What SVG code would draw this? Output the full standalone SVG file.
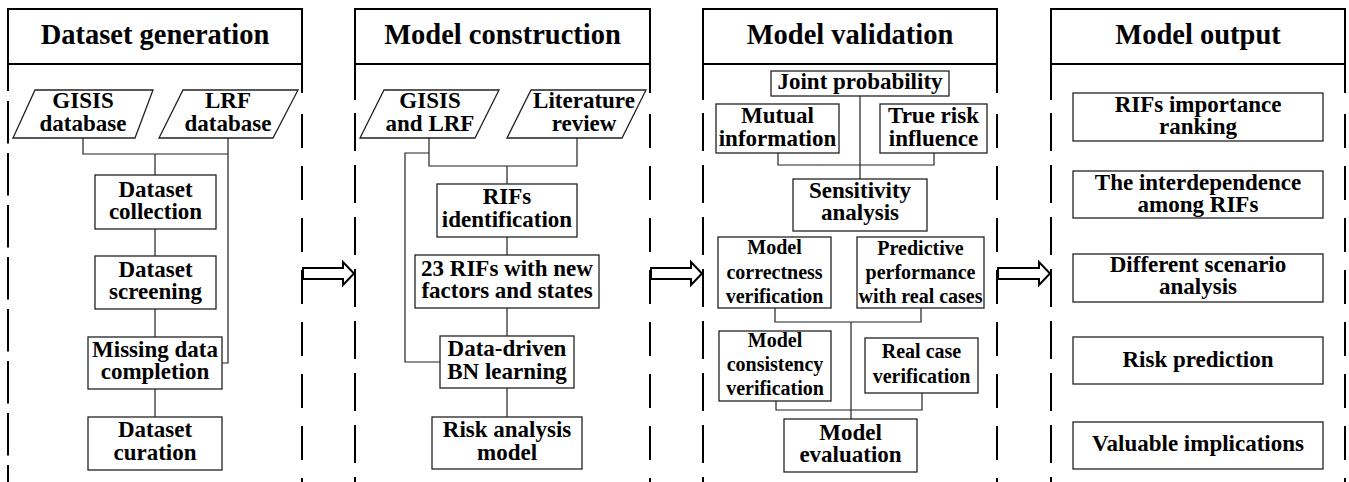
<svg xmlns="http://www.w3.org/2000/svg" width="1349" height="482" viewBox="0 0 1349 482" font-family="Liberation Serif, Times New Roman, serif">
  <style>
    .hdr { fill: #fff; stroke: #000; stroke-width: 2; }
    .side { fill: none; stroke: #000; stroke-width: 2; }
    .box { fill: #fff; stroke: #222; stroke-width: 1.3; }
    .wire { fill: none; stroke: #222; stroke-width: 1.2; }
    .flow { fill: #fff; stroke: #000; stroke-width: 2; stroke-linejoin: miter; }
    text { font-weight: bold; text-anchor: middle; fill: #000; }
    .h { font-size: 28.5px; }
    .n { font-size: 23px; }
    .s { font-size: 20px; }
  </style>

  <!-- Stage frames: solid header box, dashed side rails -->
  <g id="stage-frames">
    <g id="frame-dataset">
      <rect class="hdr" x="8" y="9" width="294" height="55"/>
      <text class="h" x="155" y="44">Dataset generation</text>
      <path class="side" d="M8 64 V91 M302 64 V93"/>
      <path class="side" d="M8 101 V482" stroke-dasharray="42.5 9.5"/>
      <path class="side" d="M302 114 V482" stroke-dasharray="34 18"/>
    </g>
    <g id="frame-construction">
      <rect class="hdr" x="355" y="9" width="295" height="55"/>
      <text class="h" x="502.5" y="44">Model construction</text>
      <path class="side" d="M355 64 V100 M650 64 V93"/>
      <path class="side" d="M355 113 V482" stroke-dasharray="38 14"/>
      <path class="side" d="M650 114 V482" stroke-dasharray="34 18"/>
    </g>
    <g id="frame-validation">
      <rect class="hdr" x="703" y="9" width="294" height="55"/>
      <text class="h" x="850" y="44">Model validation</text>
      <path class="side" d="M703 64 V100 M997 64 V93"/>
      <path class="side" d="M703 113 V482" stroke-dasharray="38 14"/>
      <path class="side" d="M997 114 V482" stroke-dasharray="34 18"/>
    </g>
    <g id="frame-output">
      <rect class="hdr" x="1051" y="9" width="294" height="55"/>
      <text class="h" x="1198" y="44">Model output</text>
      <path class="side" d="M1051 64 V100 M1345 64 V93"/>
      <path class="side" d="M1051 113 V482" stroke-dasharray="38 14"/>
      <path class="side" d="M1345 114 V482" stroke-dasharray="34 18"/>
    </g>
  </g>

  <!-- Hollow block arrows between stages -->
  <g id="stage-arrows">
    <polygon class="flow" points="303,268 343,268 343,262 354,273.5 343,285 343,279 303,279"/>
    <polygon class="flow" points="651,268 691,268 691,262 702,273.5 691,285 691,279 651,279"/>
    <polygon class="flow" points="998,268 1039,268 1039,262 1050,273.5 1039,285 1039,279 998,279"/>
  </g>

  <!-- Connectors -->
  <g id="connectors">
    <path class="wire" d="M83 138 V154 H228 M228 138 V363 H222 M155 154 V175 M155 229 V256 M155 309 V337 M155 389 V417"/>
    <path class="wire" d="M429 138 V166 H577 V138 M507 166 V184 M429 153 H405 V362 H440 M507 237 V255 M507 308 V336 M507 388 V417"/>
    <path class="wire" d="M860 96 V179 M778 153 V165 H934 V153 M775 308 V322 H921 V308 M851 322 V419 M776 401 V410 H922 V393"/>
  </g>

  <!-- Dataset generation -->
  <g id="gisis-db">
    <polygon class="box" points="35,90 153,90 135,138 13,138"/>
    <text class="n" x="83" y="108">GISIS<tspan x="83" y="131">database</tspan></text>
  </g>
  <g id="lrf-db">
    <polygon class="box" points="183,90 298,90 273,138 159,138"/>
    <text class="n" x="228" y="108">LRF<tspan x="228" y="131">database</tspan></text>
  </g>
  <g id="dataset-collection">
    <rect class="box" x="95" y="175" width="121" height="54"/>
    <text class="n" x="155.5" y="197">Dataset<tspan x="155.5" y="219">collection</tspan></text>
  </g>
  <g id="dataset-screening">
    <rect class="box" x="95" y="256" width="121" height="53"/>
    <text class="n" x="155.5" y="277">Dataset<tspan x="155.5" y="299">screening</tspan></text>
  </g>
  <g id="missing-data">
    <rect class="box" x="88" y="337" width="134" height="52"/>
    <text class="n" x="155" y="357">Missing data<tspan x="155" y="379">completion</tspan></text>
  </g>
  <g id="dataset-curation">
    <rect class="box" x="88" y="417" width="134" height="53"/>
    <text class="n" x="155" y="437">Dataset<tspan x="155" y="460">curation</tspan></text>
  </g>

  <!-- Model construction -->
  <g id="gisis-lrf">
    <polygon class="box" points="384,90 499,90 475,138 360,138"/>
    <text class="n" x="430" y="108">GISIS<tspan x="430" y="131">and LRF</tspan></text>
  </g>
  <g id="literature-review">
    <polygon class="box" points="531,90 646,90 622,138 507,138"/>
    <text class="n" x="584" y="108">Literature<tspan x="584" y="131">review</tspan></text>
  </g>
  <g id="rifs-identification">
    <rect class="box" x="437" y="184" width="140" height="53"/>
    <text class="n" x="507" y="204">RIFs<tspan x="507" y="227">identification</tspan></text>
  </g>
  <g id="rifs-23">
    <rect class="box" x="415" y="255" width="184" height="53"/>
    <text class="n" x="507" y="276">23 RIFs with new<tspan x="507" y="298">factors and states</tspan></text>
  </g>
  <g id="bn-learning">
    <rect class="box" x="440" y="336" width="134" height="52"/>
    <text class="n" x="507" y="356">Data-driven<tspan x="507" y="379">BN learning</tspan></text>
  </g>
  <g id="risk-model">
    <rect class="box" x="432" y="417" width="150" height="52"/>
    <text class="n" x="507" y="437">Risk analysis<tspan x="507" y="460">model</tspan></text>
  </g>

  <!-- Model validation -->
  <g id="joint-probability">
    <rect class="box" x="771" y="71" width="178" height="25"/>
    <text class="n" x="860" y="89">Joint probability</text>
  </g>
  <g id="mutual-information">
    <rect class="box" x="716" y="104" width="123" height="49"/>
    <text class="n" x="777.5" y="123">Mutual<tspan x="777.5" y="146">information</tspan></text>
  </g>
  <g id="true-risk">
    <rect class="box" x="880" y="104" width="107" height="49"/>
    <text class="n" x="933.5" y="123">True risk<tspan x="933.5" y="146">influence</tspan></text>
  </g>
  <g id="sensitivity">
    <rect class="box" x="793" y="179" width="134" height="52"/>
    <text class="n" x="860" y="198">Sensitivity<tspan x="860" y="220">analysis</tspan></text>
  </g>
  <g id="correctness">
    <rect class="box" x="718" y="237" width="113" height="71"/>
    <text class="s" x="774.5" y="254">Model<tspan x="774.5" y="279">correctness</tspan><tspan x="774.5" y="303">verification</tspan></text>
  </g>
  <g id="predictive">
    <rect class="box" x="857" y="237" width="127" height="71"/>
    <text class="s" x="920.5" y="255">Predictive<tspan x="920.5" y="279">performance</tspan><tspan x="920.5" y="303">with real cases</tspan></text>
  </g>
  <g id="consistency">
    <rect class="box" x="719" y="331" width="112" height="70"/>
    <text class="s" x="775" y="347">Model<tspan x="775" y="371">consistency</tspan><tspan x="775" y="395">verification</tspan></text>
  </g>
  <g id="real-case">
    <rect class="box" x="865" y="338" width="113" height="55"/>
    <text class="s" x="921.5" y="358">Real case<tspan x="921.5" y="383">verification</tspan></text>
  </g>
  <g id="model-evaluation">
    <rect class="box" x="784" y="419" width="133" height="53"/>
    <text class="n" x="850.5" y="440">Model<tspan x="850.5" y="462">evaluation</tspan></text>
  </g>

  <!-- Model output -->
  <g id="importance-ranking">
    <rect class="box" x="1073" y="93" width="250" height="48"/>
    <text class="n" x="1198" y="112">RIFs importance<tspan x="1198" y="134">ranking</tspan></text>
  </g>
  <g id="interdependence">
    <rect class="box" x="1073" y="171" width="250" height="47"/>
    <text class="n" x="1198" y="190">The interdependence<tspan x="1198" y="212">among RIFs</tspan></text>
  </g>
  <g id="scenario-analysis">
    <rect class="box" x="1073" y="254" width="250" height="48"/>
    <text class="n" x="1198" y="272">Different scenario<tspan x="1198" y="294">analysis</tspan></text>
  </g>
  <g id="risk-prediction">
    <rect class="box" x="1073" y="337" width="250" height="47"/>
    <text class="n" x="1198" y="367">Risk prediction</text>
  </g>
  <g id="implications">
    <rect class="box" x="1073" y="422" width="250" height="47"/>
    <text class="n" x="1198" y="451">Valuable implications</text>
  </g>
</svg>
